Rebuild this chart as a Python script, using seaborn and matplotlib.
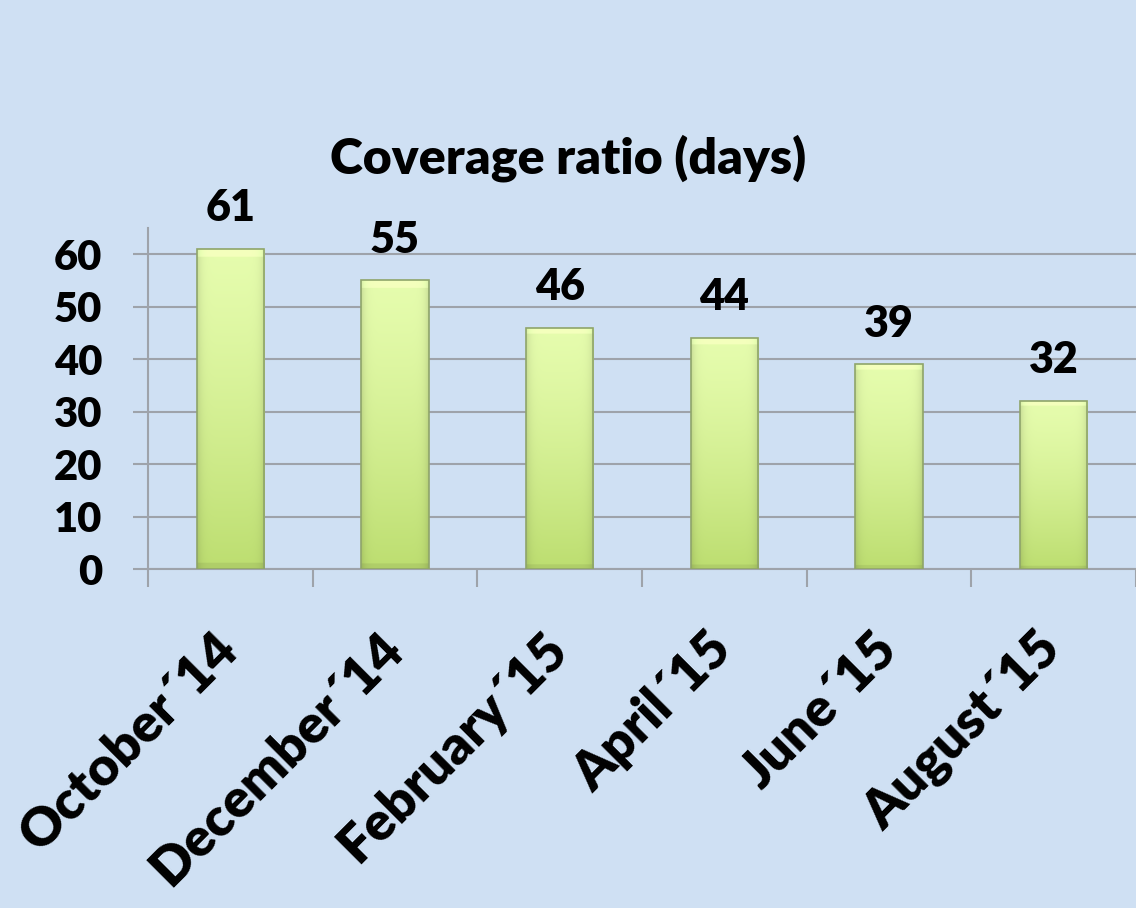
import numpy as np
import pandas as pd
import matplotlib
matplotlib.use("Agg")
import matplotlib.pyplot as plt
import seaborn as sns

# chart data
months = ["October\u00b414", "December\u00b414", "February\u00b415",
          "April\u00b415", "June\u00b415", "August\u00b415"]
days = [61, 55, 46, 44, 39, 32]
yticks = [0, 10, 20, 30, 40, 50, 60]

bg = "#cfe0f3"
grid_col = "#9ea3aa"
wt = "heavy"

sns.set_theme(style="white")
plt.rcParams["font.family"] = ["Lato", "DejaVu Sans"]
plt.rcParams["font.weight"] = wt
plt.rcParams["text.color"] = "black"
plt.rcParams["xtick.color"] = "black"
plt.rcParams["ytick.color"] = "black"

df = pd.DataFrame({"month": months, "days": days})

fig = plt.figure(figsize=(11.36, 9.08), dpi=100, facecolor=bg)
ax = fig.add_axes([0.1303, 0.3733, 0.8697, 0.3757])
ax.set_facecolor(bg)

ax = sns.barplot(data=df, x="month", y="days", color="#d4f08e", width=0.41,
                 edgecolor="#8fa56a", linewidth=1.2, ax=ax, zorder=3)

# vertical gradient inside every bar
grad = np.linspace(0, 1, 256).reshape(-1, 1)
top_c = np.array([0.90, 0.99, 0.68])
bot_c = np.array([0.74, 0.87, 0.44])
img = (top_c + (bot_c - top_c) * grad ** 1.3).reshape(256, 1, 3)
# slight darkening near the sides for a bevel look
xs = np.linspace(-1, 1, 64)
side = 1 - 0.12 * np.abs(xs) ** 8
img = img * side[None, :, None]
img[:7] = np.clip(img[:7] + 0.06, 0, 1)
img[-5:] = img[-5:] * 0.93
for p in ax.patches:
    x0, y0 = p.get_x(), p.get_y()
    w, h = p.get_width(), p.get_height()
    im = ax.imshow(img, extent=[x0, x0 + w, y0, y0 + h], aspect="auto",
                   origin="upper", zorder=3.5, interpolation="bilinear")
    im.set_clip_path(p)
    p.set_zorder(4)
    p.set_facecolor("none")

ax.set_xlim(-0.5, len(months) - 0.5)
ax.set_ylim(0, 65)
ax.set_yticks(yticks)
ax.set_yticklabels([str(v) for v in yticks], fontsize=30, fontweight=wt)
ax.set_xticks(range(len(months)))
ax.set_xticklabels(months, fontsize=38.5, fontweight=wt, rotation=45,
                   ha="right", va="center", rotation_mode="anchor")
ax.set_xticks(np.arange(-0.5, len(months)), minor=True)
ax.tick_params(axis="x", which="major", length=0, pad=52)
ax.tick_params(axis="x", which="minor", length=13, width=1.5, color=grid_col,
               direction="out", bottom=True)
ax.tick_params(axis="y", length=11, width=1.5, color=grid_col, pad=22,
               left=True, labelcolor="black")
ax.set_xlabel("")
ax.set_ylabel("")

ax.yaxis.grid(True, color=grid_col, linewidth=1.5, zorder=0)
ax.set_axisbelow(True)
for s in ["top", "right"]:
    ax.spines[s].set_visible(False)
for s in ["left", "bottom"]:
    ax.spines[s].set_color(grid_col)
    ax.spines[s].set_linewidth(1.5)

for c in ax.containers:
    ax.bar_label(c, padding=15, fontsize=31, fontweight=wt, color="black")

fig.text(0.5, 0.826, "Coverage ratio (days)", ha="center", va="center",
         fontsize=36, fontweight=wt, color="black")

fig.savefig("out.png", dpi=100, facecolor=bg)
